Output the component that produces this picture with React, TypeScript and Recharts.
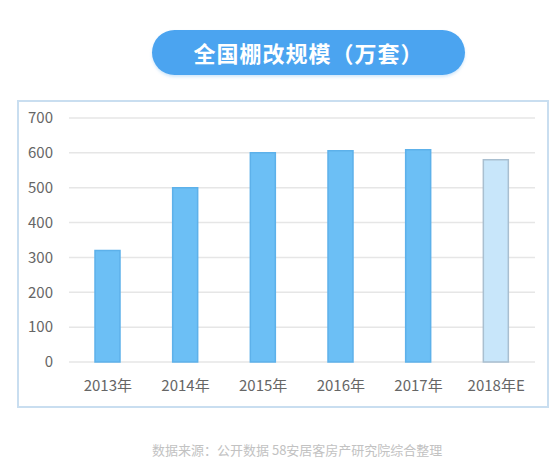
import React from 'react';
import { BarChart, Bar, XAxis, YAxis, CartesianGrid, Cell } from 'recharts';

const years = ['2013年', '2014年', '2015年', '2016年', '2017年', '2018年E'];
const units = [320, 500, 600, 606, 609, 580];
const yTicks = [0, 100, 200, 300, 400, 500, 600, 700];

const data = years.map((year, i) => ({ year, value: units[i] }));

const FONT = "'Noto Sans CJK SC', 'Noto Sans', sans-serif";

const App: React.FC = () => {
  return (
    <div style={{ position: 'absolute', left: 0, top: 0, width: 559, height: 470, background: '#fff', fontFamily: FONT }}>
      {/* title pill */}
      <div
        style={{
          position: 'absolute', left: 152, top: 30, width: 313, height: 45,
          borderRadius: 23, background: '#4ba4f0', color: '#fff',
          fontSize: 22, fontWeight: 700, lineHeight: '45px', textAlign: 'center',
          letterSpacing: 1,
          boxShadow: '0 2px 3px rgba(75,164,240,0.25)',
        }}
      >
        全国棚改规模（万套）
      </div>

      {/* chart frame */}
      <div
        style={{
          position: 'absolute', left: 17, top: 100, width: 532, height: 308,
          border: '2px solid #c9def0', boxSizing: 'border-box',
        }}
      />

      <div style={{ position: 'absolute', left: 0, top: 0 }}>
        <BarChart width={559} height={470} data={data} margin={{ top: 118, right: 24, bottom: 78, left: 17 }}>
          <CartesianGrid vertical={false} stroke="#e6e6e6" strokeWidth={1.5} />
          <XAxis
            dataKey="year"
            axisLine={false}
            tickLine={false}
            tickSize={0}
            tickMargin={18}
            height={30}
            interval={0}
            tick={{ fill: '#666', fontSize: 15, fontFamily: FONT }}
          />
          <YAxis
            domain={[0, 700]}
            ticks={yTicks}
            width={52}
            axisLine={false}
            tickLine={false}
            tickSize={0}
            tickMargin={16}
            tick={{ fill: '#666', fontSize: 15, fontFamily: FONT }}
          />
          <Bar dataKey="value" barSize={25} isAnimationActive={false}>
            {data.map((d, i) => {
              const est = d.year.endsWith('E');
              return (
                <Cell
                  key={`cell-${i}`}
                  fill={est ? '#c8e6fa' : '#6cbff5'}
                  stroke={est ? '#a9bfd0' : '#5db1ea'}
                  strokeWidth={1.5}
                />
              );
            })}
          </Bar>
        </BarChart>
      </div>

      {/* source */}
      <div style={{ position: 'absolute', left: 152, top: 440, fontSize: 13, color: '#c2c2c2', whiteSpace: 'nowrap' }}>
        数据来源：公开数据 58安居客房产研究院综合整理
      </div>
    </div>
  );
};

export default App;
